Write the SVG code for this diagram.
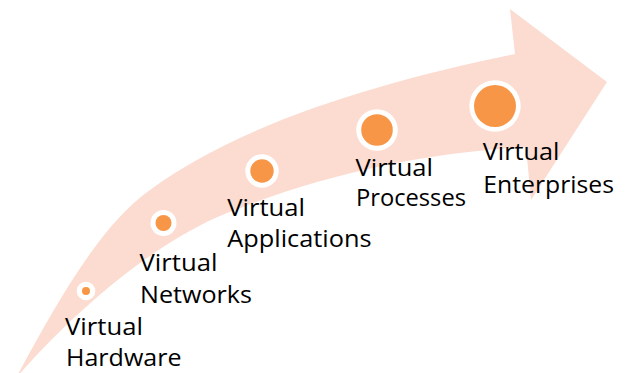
<svg xmlns="http://www.w3.org/2000/svg" width="628" height="373" viewBox="0 0 628 373">
  <style>
    .ring { fill: #ffffff; }
    .dot { fill: #f79646; }
    .label { font-family: "Open Sans", "Noto Sans", "Liberation Sans", sans-serif; font-size: 24px; fill: #000000; }
  </style>
  <rect width="628" height="373" fill="#ffffff"/>

  <!-- curved progress arrow -->
  <g id="connectors">
    <path id="progress-arrow" fill="#fcdcd0"
          d="M16,378 C60,296 102,224 150,190 C245,120.6 385,81 515,54 L510,9 L607,82 L531,200 L526,147 C426,153 327,173 227,213 C157,241 77,308 16,378 Z"/>
  </g>

  <g id="virtual-hardware">
    <circle class="ring" cx="86" cy="291" r="9.3"/>
    <circle class="dot" cx="86" cy="291" r="4"/>
    <text class="label" x="65" y="335" textLength="78" lengthAdjust="spacingAndGlyphs">Virtual</text>
    <text class="label" x="66" y="366" textLength="115.5" lengthAdjust="spacingAndGlyphs">Hardware</text>
  </g>

  <g id="virtual-networks">
    <circle class="ring" cx="163.5" cy="223" r="13"/>
    <circle class="dot" cx="163.5" cy="223" r="8"/>
    <text class="label" x="139.5" y="271" textLength="78" lengthAdjust="spacingAndGlyphs">Virtual</text>
    <text class="label" x="140" y="303" textLength="112" lengthAdjust="spacingAndGlyphs">Networks</text>
  </g>

  <g id="virtual-applications">
    <circle class="ring" cx="262" cy="171" r="16.7"/>
    <circle class="dot" cx="262" cy="171" r="11.7"/>
    <text class="label" x="227.3" y="215.5" textLength="77.7" lengthAdjust="spacingAndGlyphs">Virtual</text>
    <text class="label" x="227.3" y="246.5" textLength="144.3" lengthAdjust="spacingAndGlyphs">Applications</text>
  </g>

  <g id="virtual-processes">
    <circle class="ring" cx="377" cy="130" r="20.8"/>
    <circle class="dot" cx="377" cy="130" r="15.8"/>
    <text class="label" x="355.5" y="175.5" textLength="77.5" lengthAdjust="spacingAndGlyphs">Virtual</text>
    <text class="label" x="356" y="206" textLength="110" lengthAdjust="spacingAndGlyphs">Processes</text>
  </g>

  <g id="virtual-enterprises">
    <circle class="ring" cx="495" cy="106" r="25.7"/>
    <circle class="dot" cx="495" cy="106" r="21"/>
    <text class="label" x="482.7" y="159.5" textLength="76.7" lengthAdjust="spacingAndGlyphs">Virtual</text>
    <text class="label" x="483.3" y="192.5" textLength="130.7" lengthAdjust="spacingAndGlyphs">Enterprises</text>
  </g>
</svg>
